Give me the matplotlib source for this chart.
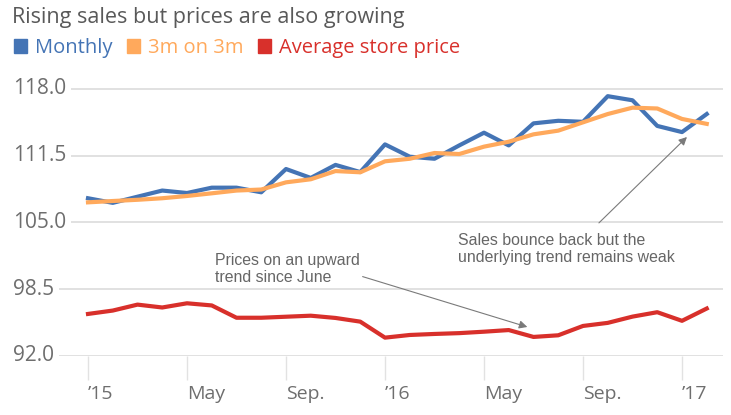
import matplotlib
matplotlib.use("Agg")
import matplotlib.pyplot as plt
from matplotlib.patches import Patch
from matplotlib import transforms

# monthly index 0 = Jan 2015 ... 25 = Feb 2017
months = list(range(26))
monthly = [107.35, 106.9, 107.5, 108.1, 107.86, 108.38, 108.38, 107.93, 110.2, 109.33,
           110.6, 109.9, 112.6, 111.4, 111.2, 112.5, 113.74, 112.5, 114.65, 114.9,
           114.8, 117.3, 116.9, 114.4, 113.8, 115.56]
three_on_three = [106.95, 107.08, 107.2, 107.35, 107.57, 107.83, 108.1, 108.2, 108.9, 109.2,
                  110.0, 109.88, 110.95, 111.2, 111.76, 111.66, 112.38, 112.86, 113.58, 113.94,
                  114.75, 115.56, 116.18, 116.1, 115.08, 114.6]
store_price = [96.07, 96.4, 96.98, 96.7, 97.11, 96.9, 95.7, 95.7, 95.8, 95.9,
               95.68, 95.32, 93.76, 94.02, 94.12, 94.2, 94.34, 94.5, 93.83, 93.99,
               94.9, 95.2, 95.81, 96.24, 95.4, 96.6]
x_ticks = [0, 4, 8, 12, 16, 20, 24]
x_labels = ["\u201915", "May", "Sep.", "\u201916", "May", "Sep.", "\u201917"]
y_ticks = [92.0, 98.5, 105.0, 111.5, 118.0]

blue = "#4474b5"
orange = "#ffa95c"
red = "#d8302b"
grey_text = "#666666"
grid_col = "#dcdcdc"

plt.rcParams["font.family"] = ["Open Sans", "DejaVu Sans"]

fig = plt.figure(figsize=(7.31, 4.15), dpi=100)
W, H = 731, 415
left_px, right_px = 8, 723
top_px, bottom_px = 75, 355.7
ax = fig.add_axes([left_px / W, (H - bottom_px) / H,
                   (right_px - left_px) / W, (bottom_px - top_px) / H])

ax.plot(months, monthly, color=blue, lw=3, solid_joinstyle="round", zorder=3)
ax.plot(months, three_on_three, color=orange, lw=3, solid_joinstyle="round", zorder=4)
ax.plot(months, store_price, color=red, lw=3, solid_joinstyle="round", zorder=3)

px_per_month = 24.75
ax.set_xlim((left_px - 88) / px_per_month, (right_px - 88) / px_per_month)
ax.set_ylim(92.0, 118.0 + (89 - top_px) / 10.26)

for s in ax.spines.values():
    s.set_visible(False)

ax.set_yticks(y_ticks)
ax.yaxis.grid(True, color=grid_col, lw=1.2)
ax.tick_params(axis="y", length=0, labelleft=False)
ytrans = transforms.blended_transform_factory(ax.transAxes, ax.transData)
for v in y_ticks:
    ax.text((13 - left_px) / (right_px - left_px), v, f"{v:.1f}", transform=ytrans,
            ha="left", va="center", fontsize=15, color="#6e6e6e",
            bbox=dict(boxstyle="square,pad=0.24", fc="white", ec="none"), zorder=5)

ax.set_xticks(x_ticks)
ax.set_xticklabels(x_labels, ha="left", fontsize=14, color="#6e6e6e")
ax.tick_params(axis="x", length=17, width=1, color="#e2e2e2", pad=4)
ax.set_axisbelow(True)

ax.annotate("Prices on an upward\ntrend since June", xy=(17.75, 94.8), xytext=(5.13, 102.0),
            fontsize=11.4, family="Liberation Sans", color=grey_text, va="top", ha="left",
            linespacing=1.15,
            arrowprops=dict(arrowstyle="-|>", color="#7a7a7a", lw=0.8,
                            shrinkA=0, shrinkB=0, mutation_scale=12,
                            relpos=(0.92, 0.4)))
ax.annotate("Sales bounce back but the\nunderlying trend remains weak", xy=(24.2, 113.32),
            xytext=(14.95, 103.92), fontsize=11.4, family="Liberation Sans", color=grey_text,
            va="top", ha="left", linespacing=1.15,
            arrowprops=dict(arrowstyle="-|>", color="#7a7a7a", lw=0.8,
                            shrinkA=8, shrinkB=0, mutation_scale=12,
                            relpos=(0.6, 1.0)))

fig.text(12 / W, 1 - 17 / H, "Rising sales but prices are also growing", fontsize=15.5,
         color="#595959", ha="left", va="center")

handles = [Patch(color=blue), Patch(color=orange), Patch(color=red)]
fig.legend(handles, ["Monthly", "3m on 3m", "Average store price"],
           loc="center left", bbox_to_anchor=(6 / W, 1 - 48 / H), ncol=3, frameon=False,
           fontsize=14.5, labelcolor=[blue, orange, red], handlelength=0.65, handleheight=0.65,
           handletextpad=0.4, columnspacing=0.7, borderaxespad=0)

fig.savefig("out.png", dpi=100)
